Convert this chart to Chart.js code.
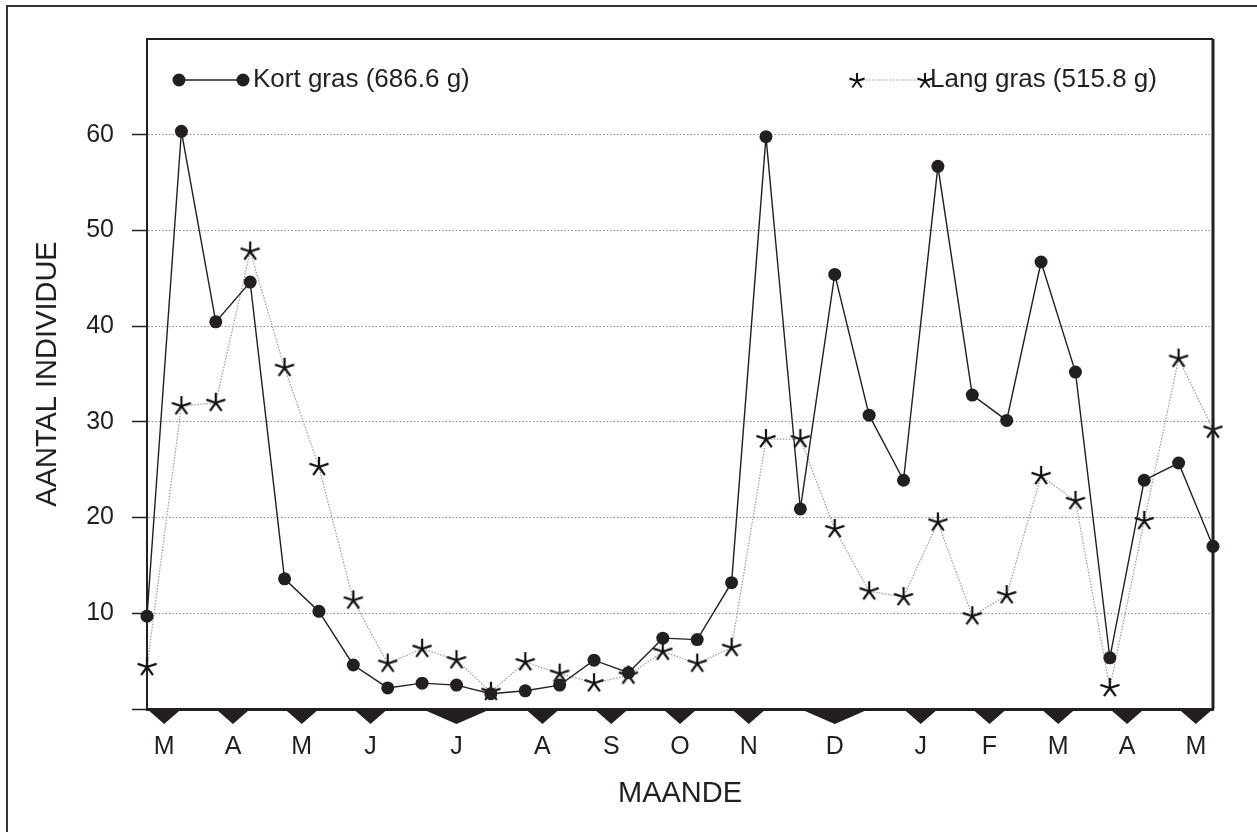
<!DOCTYPE html>
<html>
<head>
<meta charset="utf-8">
<title>Aantal individue per maand</title>
<script src="https://cdn.jsdelivr.net/npm/chart.js@4/dist/chart.umd.min.js"></script>
<style>
  html, body { margin: 0; padding: 0; background: #fff; overflow: hidden; }
  #wrap { position: relative; width: 1257px; height: 832px; }
  #frame { position: absolute; left: 6px; top: 5px; width: 1300px; height: 900px;
           border-left: 2px solid #333; border-top: 2px solid #333; pointer-events: none; }
  #chart { position: absolute; left: 0; top: 0; }
</style>
</head>
<body>
<div id="wrap">
  <canvas id="chart" width="1257" height="832"></canvas>
  <div id="frame"></div>
</div>
<script>
// values, one per sampling date (32 dates)
const KORT_GRAS = [9.7, 60.35, 40.45, 44.6, 13.6, 10.2, 4.6, 2.2, 2.7, 2.5, 1.6, 1.9, 2.5, 5.1, 3.8, 7.4,
                   7.25, 13.2, 59.8, 20.9, 45.4, 30.7, 23.9, 56.7, 32.8, 30.15, 46.7, 35.2, 5.35, 23.9, 25.7, 17.0];
const LANG_GRAS = [4.4, 31.65, 32.0, 47.8, 35.65, 25.3, 11.35, 4.75, 6.3, 5.1, 1.8, 4.9, 3.7, 2.7, 3.5, 6.0,
                   4.75, 6.4, 28.2, 28.2, 18.8, 12.3, 11.7, 19.5, 9.7, 11.9, 24.35, 21.75, 2.2, 19.65, 36.6, 29.2];
const SERIES_LABELS = ["Kort gras (686.6 g)", "Lang gras (515.8 g)"];

// month labels and the sampling dates each month marker spans
const MONTH_LABELS = ["M", "A", "M", "J", "J", "A", "S", "O", "N", "D", "J", "F", "M", "A", "M"];
const MONTH_SPANS = [[0, 1], [2, 3], [4, 5], [6, 7], [8, 10], [11, 12], [13, 14], [15, 16],
                     [17, 18], [19, 21], [22, 23], [24, 25], [26, 27], [28, 29], [30, 31]];

const Y_TICKS = [0, 10, 20, 30, 40, 50, 60, 70];
const Y_TITLE = "AANTAL INDIVIDUE";
const X_TITLE = "MAANDE";

const INK = "#231f20";
const FONT = "'Liberation Sans', Arial, Helvetica, sans-serif";

function makeStar(size, lw) {
  const c = document.createElement("canvas");
  c.width = c.height = size;
  const g = c.getContext("2d");
  g.strokeStyle = "#111";
  g.lineWidth = lw;
  g.translate(size / 2, size / 2);
  const r = size / 2 - 1;
  for (let k = 0; k < 5; k++) {
    const a = -Math.PI / 2 + k * 2 * Math.PI / 5;
    g.beginPath();
    g.moveTo(0, 0);
    g.lineTo(r * Math.cos(a), r * Math.sin(a));
    g.stroke();
  }
  return c;
}
const STAR = makeStar(22, 2.2);
const STAR_SMALL = makeStar(18, 2.0);

const toPoints = (arr) => arr.map((v, i) => ({ x: i, y: v }));
const monthTicks = MONTH_SPANS.map(([a, b]) => (a + b) / 2);

// plot frame (top/right) plus the month triangles hanging under the x axis
const framePlugin = {
  id: "frame",
  afterDraw(chart) {
    const { ctx, chartArea: a, scales: { x } } = chart;
    ctx.save();
    ctx.strokeStyle = INK;
    ctx.lineWidth = 2;
    ctx.beginPath();
    ctx.moveTo(a.left, a.top);
    ctx.lineTo(a.right, a.top);
    ctx.stroke();
    ctx.lineWidth = 3;
    ctx.beginPath();
    ctx.moveTo(a.right, a.top);
    ctx.lineTo(a.right, a.bottom);
    ctx.stroke();
    ctx.fillStyle = INK;
    MONTH_SPANS.forEach(([s, e]) => {
      const x1 = x.getPixelForValue(s), x2 = x.getPixelForValue(e);
      ctx.beginPath();
      ctx.moveTo(x1, a.bottom);
      ctx.lineTo(x2, a.bottom);
      ctx.lineTo((x1 + x2) / 2, a.bottom + 15);
      ctx.closePath();
      ctx.fill();
    });
    ctx.restore();
  },
};

// legend drawn inside the plot, line with a marker at each end
const innerLegend = {
  id: "innerLegend",
  afterDraw(chart) {
    const { ctx, chartArea: a } = chart;
    const y = a.top + 41;
    const starts = [a.left + 32, a.right - 356];
    ctx.save();
    ctx.font = `26px ${FONT}`;
    ctx.textBaseline = "middle";
    ctx.fillStyle = INK;
    chart.data.datasets.forEach((ds, i) => {
      const x0 = starts[i], x1 = x0 + (i === 0 ? 64 : 68);
      ctx.strokeStyle = ds.borderColor;
      ctx.lineWidth = ds.borderWidth;
      ctx.setLineDash(ds.borderDash || []);
      ctx.beginPath();
      ctx.moveTo(x0, y);
      ctx.lineTo(x1, y);
      ctx.stroke();
      ctx.setLineDash([]);
      [x0, x1].forEach((px) => {
        if (i === 0) {
          ctx.beginPath();
          ctx.arc(px, y, 6.5, 0, Math.PI * 2);
          ctx.fill();
        } else {
          ctx.drawImage(STAR_SMALL, px - STAR_SMALL.width / 2, y - STAR_SMALL.height / 2 + 1);
        }
      });
      ctx.fillText(ds.label, x1 + (i === 0 ? 10 : 5), y);
    });
    ctx.restore();
  },
};

new Chart(document.getElementById("chart"), {
  type: "line",
  data: {
    datasets: [
      {
        label: SERIES_LABELS[0],
        data: toPoints(KORT_GRAS),
        borderColor: INK,
        borderWidth: 1.4,
        pointStyle: "circle",
        pointRadius: 6.5,
        pointBackgroundColor: INK,
        pointBorderColor: INK,
        pointBorderWidth: 0,
        clip: false,
      },
      {
        label: SERIES_LABELS[1],
        data: toPoints(LANG_GRAS),
        borderColor: "#9a9a9a",
        borderWidth: 1.2,
        borderDash: [1.5, 1.5],
        pointStyle: STAR,
        pointRadius: 10,
        clip: false,
      },
    ],
  },
  options: {
    responsive: false,
    animation: false,
    events: [],
    layout: { padding: { left: 20, right: 44, top: 39, bottom: 0 } },
    plugins: { legend: { display: false }, tooltip: { enabled: false } },
    scales: {
      x: {
        type: "linear",
        min: 0,
        max: KORT_GRAS.length - 1,
        afterBuildTicks: (scale) => { scale.ticks = monthTicks.map((v) => ({ value: v })); },
        grid: { display: false, drawTicks: false },
        border: { display: true, color: INK, width: 3 },
        ticks: {
          autoSkip: false,
          maxRotation: 0,
          padding: 23,
          color: INK,
          font: { family: FONT, size: 25 },
          callback: (v, i) => MONTH_LABELS[i],
        },
        title: {
          display: true,
          text: X_TITLE,
          color: INK,
          font: { family: FONT, size: 29 },
          padding: { top: -8.4, bottom: 20.6 },
        },
      },
      y: {
        min: 0,
        max: 70,
        afterBuildTicks: (scale) => { scale.ticks = Y_TICKS.map((v) => ({ value: v })); },
        grid: {
          color: (c) => (c.tick && (c.tick.value === 0 || c.tick.value === 70) ? "rgba(0,0,0,0)" : "#8c8c8c"),
          lineWidth: 1,
          tickLength: 15,
          tickColor: (c) => (c.tick && c.tick.value === 70 ? "rgba(0,0,0,0)" : INK),
          tickWidth: 1.5,
          tickBorderDash: [],
        },
        border: { display: true, color: INK, width: 2, dash: [1.5, 2] },
        ticks: {
          padding: 18,
          color: INK,
          font: { family: FONT, size: 25 },
          callback: (v) => (v === 0 || v === 70 ? "" : String(v)),
        },
        title: {
          display: true,
          text: Y_TITLE,
          color: INK,
          font: { family: FONT, size: 29 },
          padding: { top: 10.6, bottom: 2.8 },
        },
      },
    },
  },
  plugins: [framePlugin, innerLegend],
});
</script>
</body>
</html>
